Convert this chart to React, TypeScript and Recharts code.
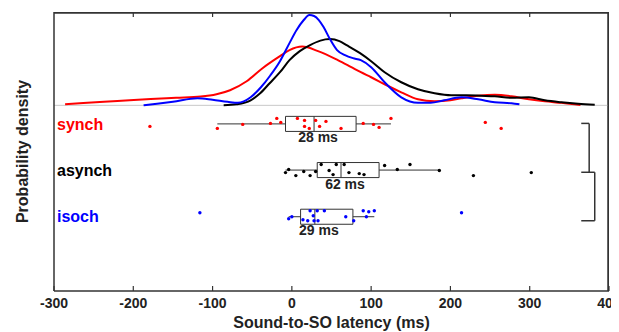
import {
  CartesianGrid,
  ComposedChart,
  Line,
  ReferenceArea,
  ReferenceLine,
  Scatter,
  XAxis,
  YAxis,
} from "recharts";

const AXIS = "#333333";
const FONT = "'Liberation Sans', Arial, Helvetica, sans-serif";

const CHART_W = 611;
const CHART_H = 324;
const MARGIN = { top: 4, right: 10, bottom: 0, left: 0 };
const Y_AXIS_W = 46;

const groups = ["synch", "asynch", "isoch"];
const colors = ["#ff0000", "#000000", "#0000ff"];
// vertical position of each box-plot row (same units as the density, baseline = 0)
const rowY = [-18.5, -64.5, -111];

const xTicks = [-300, -200, -100, 0, 100, 200, 300, 400];
const X_DOMAIN = [-300, 400];
const Y_DOMAIN = [-185, 93];

// kernel density estimates, [latency ms, density a.u.]
const synchDensity = [
  [-286, 1], [-263, 2.3], [-220, 4.3], [-178, 6.3], [-146, 7.5], [-115, 8.7],
  [-95, 11], [-78, 15], [-57, 24], [-37, 37], [-15, 49], [-3, 55], [13, 58.5],
  [33, 54], [58, 45], [75, 38], [87, 33], [100, 28], [117, 21], [138, 13],
  [159, 6], [180, 4], [200, 5], [214, 7], [235, 9.5], [256, 10.5], [277, 9],
  [299, 6], [319, 4], [340, 2.5], [364, 0.3],
];
const asynchDensity = [
  [-86, 0], [-70, 1], [-52, 5], [-40, 12], [-28, 22], [-15, 33], [-3, 45],
  [10, 54], [23, 60], [36, 64.5], [48, 66], [60, 64], [69, 60], [86, 52],
  [100, 44], [117, 33], [138, 23], [159, 16], [180, 12], [201, 10], [220, 10],
  [239, 9.5], [256, 9], [277, 7.5], [299, 8], [319, 5], [340, 3], [361, 1.5],
  [382, 0.5],
];
const isochDensity = [
  [-187, 0], [-170, 1.5], [-150, 3.5], [-119, 7], [-100, 5.5], [-81, 3.5],
  [-68, 2.5], [-52, 8], [-39, 18], [-27, 30], [-15, 44], [-3, 62], [6, 75],
  [15, 85], [22, 90], [28, 89], [34, 85], [40, 78], [48, 66], [57, 55], [67, 50],
  [77, 47], [87, 45], [100, 38], [117, 23], [138, 8], [159, 2.5], [175, 2.5],
  [192, 5], [214, 8], [235, 6], [256, 3], [277, 2], [287, 1],
];

// individual subjects (latency ms) with their vertical jitter
const synchLatency = [-179, -94, -62, -27, -19, -14, 7, 16, 16, 22, 30, 35, 43, 62, 90, 103, 110, 125, 244, 264];
const synchJitter = [-2.5, -4.5, -0.5, 0.5, 5.5, 1.5, 5.5, 3.5, -2.5, -4.5, 3.5, -2.5, 2.5, -4.5, 0.5, -0.5, -3.5, 5.5, 1.5, -4.5];
const asynchLatency = [-8, -4, 5, 15, 23, 30, 37, 47, 52, 56, 66, 72, 85, 91, 117, 133, 149, 186, 229, 302];
const asynchJitter = [-2.5, 0.5, -5.5, -1.5, -5.5, -1.5, 5.5, -0.5, -4.5, 5.5, 5.5, -2.5, -3.5, -4.5, 4.5, 0.5, 5.5, -0.5, -5.5, -2.5];
const isochLatency = [-116, -4, 0, 14, 20, 23, 27, 28, 32, 33, 41, 68, 78, 90, 94, 97, 104, 214];
const isochJitter = [4, -2, 0, -3, -4, 6, 1, -4, 6, -4, 6, 0, -4, 6, 0, 5, 6, 4];

// box-plot statistics (ms)
const whiskerLow = [-94, -8, -4];
const q1 = [-8, 32, 11];
const medians = [28, 62, 29];
const q3 = [81, 110, 77];
const whiskerHigh = [125, 186, 104];

// significance bracket
const bracketX = [365, 375, 382];
const bracketY = [-18, -66.7, -115];

const BOX_H = 7.5;
const TICK_LEN = 5;

const toLine = (pts: number[][]) => pts.map(([x, y]) => ({ x, y }));
const toDots = (lat: number[], jit: number[], row: number) =>
  lat.map((x, i) => ({ x, y: row + jit[i] }));

const densities = [synchDensity, asynchDensity, isochDensity];
const dots = [
  toDots(synchLatency, synchJitter, rowY[0]),
  toDots(asynchLatency, asynchJitter, rowY[1]),
  toDots(isochLatency, isochJitter, rowY[2]),
];
const medianLabels = medians.map((m, i) => ({ x: m, y: rowY[i] - 13.5, text: `${m} ms` }));

const bracketSegments = [
  [[bracketX[0], bracketY[0]], [bracketX[1], bracketY[0]]],
  [[bracketX[1], bracketY[0]], [bracketX[1], bracketY[1]]],
  [[bracketX[0], bracketY[1]], [bracketX[2], bracketY[1]]],
  [[bracketX[2], bracketY[1]], [bracketX[2], bracketY[2]]],
  [[bracketX[0], bracketY[2]], [bracketX[2], bracketY[2]]],
];

const BottomTick = (props: any) => {
  const { x, y, payload } = props;
  return (
    <g>
      <line x1={x} x2={x} y1={y} y2={y - TICK_LEN} stroke={AXIS} strokeWidth={1.2} />
      <text
        x={x}
        y={y + 17}
        textAnchor="middle"
        fill="#222"
        fontSize={14}
        fontWeight="bold"
        fontFamily={FONT}
      >
        {payload.value}
      </text>
    </g>
  );
};

const RowTick = (props: any) => {
  const { x, y, payload } = props;
  const i = rowY.indexOf(payload.value);
  if (i < 0) return null;
  return (
    <text
      x={x + 3}
      y={y}
      dy="0.35em"
      fill={colors[i]}
      fontSize={16}
      fontWeight="bold"
      fontFamily={FONT}
    >
      {groups[i]}
    </text>
  );
};

// y-axis title; it also closes the box on the top and right edge
const YLabel = (props: any) => {
  const vb = props.viewBox ?? { x: 0, y: MARGIN.top, width: Y_AXIS_W, height: 279 };
  const cx = vb.x + 14;
  const cy = vb.y + vb.height / 2;
  const left = vb.x + vb.width;
  const right = CHART_W - MARGIN.right;
  const top = vb.y + 0.75;
  const bottom = vb.y + vb.height;
  return (
    <g>
      <path
        d={`M${left},${top} H${right - 0.75} V${bottom}`}
        stroke={AXIS}
        strokeWidth={1.5}
        fill="none"
      />
      <text
        x={cx}
        y={cy}
        dy="0.35em"
        textAnchor="middle"
        transform={`rotate(-90 ${cx} ${cy})`}
        fill="#222"
        fontSize={16}
        fontWeight="bold"
        fontFamily={FONT}
      >
        Probability density
      </text>
    </g>
  );
};

export default function App() {
  return (
    <div style={{ width: CHART_W, height: CHART_H }}>
      <ComposedChart width={CHART_W} height={CHART_H} margin={MARGIN}>
        <CartesianGrid
          stroke={AXIS}
          strokeWidth={1.5}
          horizontalCoordinatesGenerator={({ offset }: any) => [offset.top + 0.75]}
          verticalCoordinatesGenerator={({ offset }: any) => [offset.left + offset.width - 0.75]}
        />
        <XAxis
          dataKey="x"
          type="number"
          domain={X_DOMAIN}
          ticks={xTicks}
          allowDataOverflow
          interval={0}
          height={41}
          tickSize={0}
          tickMargin={0}
          tickLine={false}
          axisLine={{ stroke: AXIS, strokeWidth: 1.5 }}
          tick={<BottomTick />}
          label={{
            value: "Sound-to-SO latency (ms)",
            position: "insideBottom",
            offset: 4,
            fill: "#222",
            fontSize: 16,
            fontWeight: "bold",
            fontFamily: FONT,
          }}
        />
        <YAxis
          dataKey="y"
          type="number"
          domain={Y_DOMAIN}
          allowDataOverflow
          ticks={rowY}
          interval={0}
          width={Y_AXIS_W}
          tickSize={0}
          tickMargin={0}
          tickLine={false}
          axisLine={{ stroke: AXIS, strokeWidth: 1.5 }}
          tick={<RowTick />}
          label={<YLabel />}
        />

        {/* inward ticks mirrored on the top edge */}
        {xTicks.slice(1, -1).map((t) => (
          <ReferenceLine
            key={`tt-${t}`}
            ifOverflow="visible"
            segment={[
              { x: t, y: Y_DOMAIN[1] - 0.5 },
              { x: t, y: Y_DOMAIN[1] - TICK_LEN },
            ]}
            stroke={AXIS}
            strokeWidth={1.2}
          />
        ))}

        <ReferenceLine y={0} stroke="#c8c8c8" strokeWidth={1} />

        {groups.map((g, i) => (
          <Line
            key={`d-${g}`}
            data={toLine(densities[i])}
            dataKey="y"
            type="monotone"
            stroke={colors[i]}
            strokeWidth={2}
            dot={false}
            activeDot={false}
            isAnimationActive={false}
          />
        ))}

        {groups.map((g, i) => (
          <ReferenceArea
            key={`box-${g}`}
            x1={q1[i]}
            x2={q3[i]}
            y1={rowY[i] - BOX_H}
            y2={rowY[i] + BOX_H}
            fill="none"
            fillOpacity={0}
            stroke={AXIS}
            strokeWidth={1}
          />
        ))}
        {groups.map((g, i) => (
          <ReferenceLine
            key={`med-${g}`}
            segment={[
              { x: medians[i], y: rowY[i] - BOX_H },
              { x: medians[i], y: rowY[i] + BOX_H },
            ]}
            stroke={AXIS}
            strokeWidth={1}
          />
        ))}
        {groups.map((g, i) => (
          <ReferenceLine
            key={`wl-${g}`}
            segment={[
              { x: whiskerLow[i], y: rowY[i] },
              { x: q1[i], y: rowY[i] },
            ]}
            stroke={AXIS}
            strokeWidth={1}
          />
        ))}
        {groups.map((g, i) => (
          <ReferenceLine
            key={`wh-${g}`}
            segment={[
              { x: q3[i], y: rowY[i] },
              { x: whiskerHigh[i], y: rowY[i] },
            ]}
            stroke={AXIS}
            strokeWidth={1}
          />
        ))}
        {bracketSegments.map((s, i) => (
          <ReferenceLine
            key={`br-${i}`}
            segment={[
              { x: s[0][0], y: s[0][1] },
              { x: s[1][0], y: s[1][1] },
            ]}
            stroke={AXIS}
            strokeWidth={1.5}
          />
        ))}

        {groups.map((g, i) => (
          <Scatter
            key={`pts-${g}`}
            data={dots[i]}
            dataKey="y"
            isAnimationActive={false}
            shape={(p: any) => <circle cx={p.cx} cy={p.cy} r={1.7} fill={colors[i]} />}
          />
        ))}

        <Scatter
          data={medianLabels}
          dataKey="y"
          isAnimationActive={false}
          shape={(p: any) => (
            <text
              x={p.cx + 4}
              y={p.cy}
              dy="0.35em"
              textAnchor="middle"
              fill="#222"
              fontSize={14}
              fontWeight="bold"
              fontFamily={FONT}
            >
              {p.payload.text}
            </text>
          )}
        />
      </ComposedChart>
    </div>
  );
}
